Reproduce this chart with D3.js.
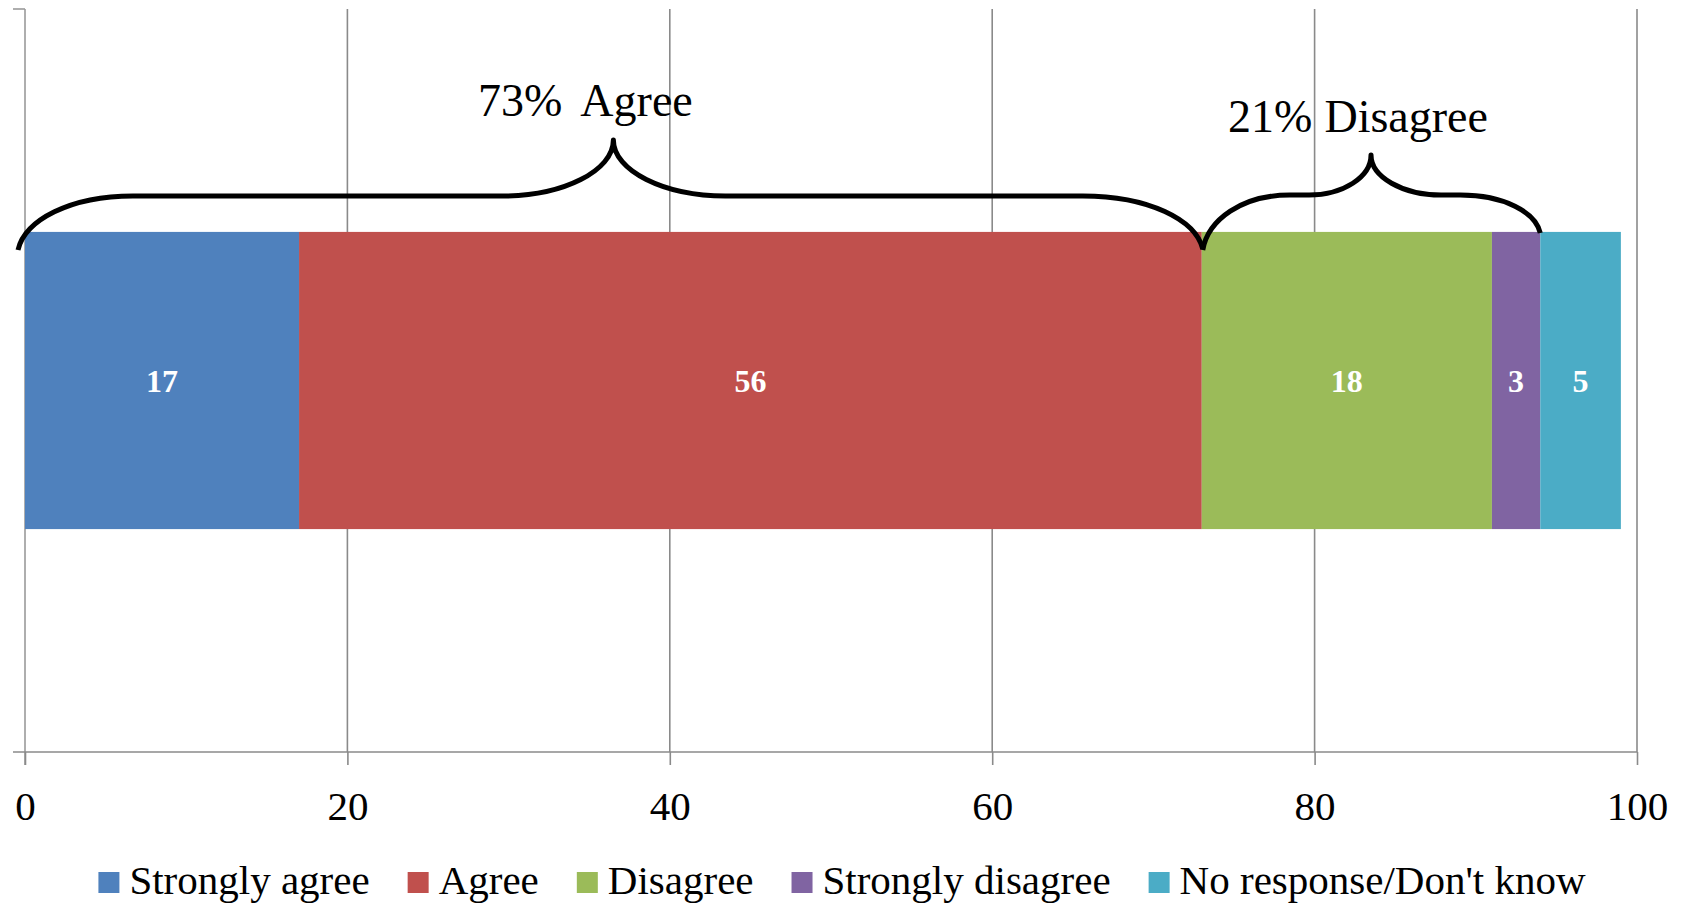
<!DOCTYPE html>
<html>
<head>
<meta charset="utf-8">
<script src="https://cdn.jsdelivr.net/npm/d3@7"></script>
<style>
  html, body { margin: 0; padding: 0; background: #fff; }
  svg { display: block; }
  text { font-family: "Liberation Serif", "DejaVu Serif", serif; }
</style>
</head>
<body>
<svg id="chart" width="1684" height="904"></svg>
<script>
// ---- data ----
const categories = ["Strongly agree", "Agree", "Disagree", "Strongly disagree", "No response/Don't know"];
const values = [17, 56, 18, 3, 5];
const colors = ["#4F81BD", "#C0504D", "#9BBB59", "#8064A2", "#4BACC6"];
const tickValues = [0, 20, 40, 60, 80, 100];
const groupLabels = ["73% Agree", "21% Disagree"];
const groupRanges = [[0, 73], [73, 94]];

// ---- layout ----
const W = 1684, H = 904;
const mLeft = 25, mRight = 1637, mTop = 9, mBottom = 752;
const svg = d3.select("#chart");

const x = d3.scaleLinear().domain([0, 100]).range([mLeft, mRight]);
const y = d3.scaleBand().domain(["row"]).range([mTop, mBottom]).padding(0.4286);

// gridlines
const grid = svg.append("g");
grid.selectAll("line").data(tickValues.filter(d => d > 0)).join("line")
  .attr("x1", d => x(d)).attr("x2", d => x(d))
  .attr("y1", mTop).attr("y2", mBottom)
  .attr("stroke", "#8a8a8a").attr("stroke-width", 1.6);

// vertical (category) axis
svg.append("line").attr("x1", mLeft).attr("x2", mLeft).attr("y1", mTop).attr("y2", mBottom + 13)
  .attr("stroke", "#9a9a9a").attr("stroke-width", 1.6);
svg.append("line").attr("x1", mLeft - 12).attr("x2", mLeft).attr("y1", mTop).attr("y2", mTop)
  .attr("stroke", "#9a9a9a").attr("stroke-width", 1.6);

// stacked bars
let acc = 0;
const segs = values.map((v, i) => { const s = { start: acc, end: acc + v, v, i }; acc += v; return s; });
svg.append("g").selectAll("rect").data(segs).join("rect")
  .attr("x", d => x(d.start))
  .attr("width", d => x(d.end) - x(d.start))
  .attr("y", y("row"))
  .attr("height", y.bandwidth())
  .attr("fill", d => colors[d.i]);

svg.append("g").selectAll("text").data(segs).join("text")
  .attr("x", d => (x(d.start) + x(d.end)) / 2)
  .attr("y", y("row") + y.bandwidth() / 2)
  .attr("dy", "0.35em")
  .attr("text-anchor", "middle")
  .attr("fill", "#fff")
  .attr("font-weight", "bold")
  .attr("font-size", 32)
  .text(d => d.v);

// x axis
const xAxis = d3.axisBottom(x).tickValues(tickValues).tickSize(13).tickPadding(26).tickFormat(d3.format("d"));
const ax = svg.append("g").attr("transform", `translate(0,${mBottom})`).call(xAxis);
ax.select(".domain").remove();
ax.selectAll(".tick line").attr("stroke", "#8a8a8a").attr("stroke-width", 1.6);
ax.selectAll(".tick text").attr("font-size", 41).attr("fill", "#000")
  .attr("font-family", "Liberation Serif").attr("dy", "0.71em");
svg.append("line").attr("x1", mLeft - 12).attr("x2", mRight).attr("y1", mBottom).attr("y2", mBottom)
  .attr("stroke", "#8a8a8a").attr("stroke-width", 1.6);

// braces
function bracePath(xa, xb, xm, yEA, yEB, yH, yP, rA, rB, r2L, r2R) {
  const k = 0.55;
  return `M${xa},${yEA}` +
    `C${xa + 0.06 * rA},${yEA - k * (yEA - yH)} ${xa + rA - k * rA},${yH} ${xa + rA},${yH}` +
    `L${xm - r2L},${yH}` +
    `C${xm - r2L + k * r2L},${yH} ${xm},${yP + k * (yH - yP)} ${xm},${yP}` +
    `C${xm},${yP + k * (yH - yP)} ${xm + r2R - k * r2R},${yH} ${xm + r2R},${yH}` +
    `L${xb - rB},${yH}` +
    `C${xb - rB + k * rB},${yH} ${xb - 0.06 * rB},${yEB - k * (yEB - yH)} ${xb},${yEB}`;
}
const braceSpecs = [
  { xa: x(groupRanges[0][0]) - 7, xb: x(groupRanges[0][1]) + 1, yEA: 250, yEB: 249, yH: 196, yP: 140, rA: 115, rB: 120, r2L: 111, r2R: 112, ldx: -28, ly: 116 },
  { xa: x(groupRanges[1][0]) + 1, xb: x(groupRanges[1][1]), yEA: 250, yEB: 233, yH: 195, yP: 155, rA: 87, rB: 80, r2L: 62, r2R: 70, ldx: -13, ly: 132 }
];
braceSpecs.forEach((b, i) => {
  const xm = x((groupRanges[i][0] + groupRanges[i][1]) / 2);
  svg.append("path")
    .attr("d", bracePath(b.xa, b.xb, xm, b.yEA, b.yEB, b.yH, b.yP, b.rA, b.rB, b.r2L, b.r2R))
    .attr("fill", "none").attr("stroke", "#000").attr("stroke-width", 5)
    .attr("stroke-linejoin", "round");
  const parts = groupLabels[i].split(" ");
  const t = svg.append("text")
    .attr("x", xm + b.ldx).attr("y", b.ly)
    .attr("text-anchor", "middle").attr("font-size", 46).attr("fill", "#000");
  t.append("tspan").text(parts[0]);
  t.append("tspan").attr("dx", i === 0 ? 18 : 12).text(parts.slice(1).join(" "));
});

// legend
const legend = svg.append("g");
const items = legend.selectAll("g").data(categories).join("g");
items.append("rect").attr("width", 21).attr("height", 21).attr("y", 872).attr("fill", (d, i) => colors[i]);
items.append("text").attr("x", 31).attr("y", 894).attr("font-size", 41).attr("fill", "#000").text(d => d);
let widths = [];
items.each(function () { widths.push(31 + d3.select(this).select("text").node().getComputedTextLength()); });
const gap = 38;
const total = d3.sum(widths) + gap * (widths.length - 1);
let cx = (W - total) / 2;
items.attr("transform", (d, i) => { const t = `translate(${cx},0)`; cx += widths[i] + gap; return t; });
</script>
</body>
</html>
